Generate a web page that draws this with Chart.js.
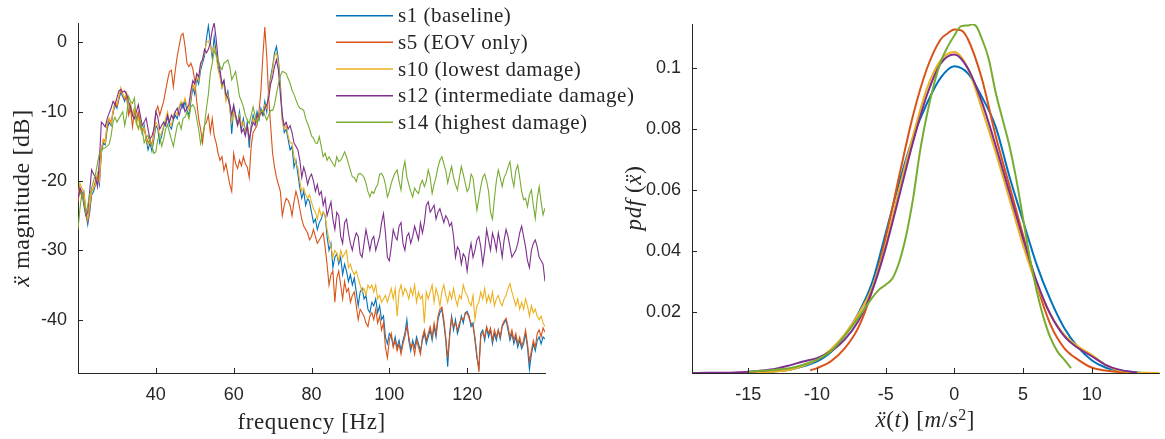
<!DOCTYPE html>
<html>
<head>
<meta charset="utf-8">
<script src="https://cdn.jsdelivr.net/npm/chart.js@4.4.1/dist/chart.umd.min.js"></script>
<style>
  html, body { margin: 0; padding: 0; background: #fff; }
  #wrap { position: relative; width: 1165px; height: 439px; overflow: hidden; background: #fff; }
  #wrap canvas { position: absolute; top: 0; }
  #spec { left: 0; }
  #pdf { left: 600px; }
</style>
</head>
<body>
<div id="wrap">
  <canvas id="spec" width="665" height="439"></canvas>
  <canvas id="pdf" width="565" height="439"></canvas>
</div>
<script>
// ---- series ----
const seriesNames = ['s1 (baseline)', 's5 (EOV only)', 's10 (lowest damage)', 's12 (intermediate damage)', 's14 (highest damage)'];

// ---- spectrum (dB), one value every 0.5 Hz from 20 to 140 Hz ----
const FREQ_START_HZ = 20;
const FREQ_STEP_HZ = 0.5;

const specS1 = [
  -22.5, -21.5, -22, -21.5, -24.5, -26.3, -24.5, -22, -21.5, -20.5,
  -19, -20.5, -16, -14.5, -14.8, -12.5, -11.5, -12, -10.2, -9,
  -9.5, -8.2, -7.2, -7.8, -8.5, -7.5, -9.8, -9, -10.5, -9.5,
  -11.5, -10.5, -12, -13.2, -12, -14, -15.5, -14.5, -15.7, -14,
  -12, -12.5, -14.5, -13.5, -12.2, -11.5, -10.8, -12, -12.5, -11.2,
  -10.5, -11, -9.5, -8.8, -9.5, -8.5, -9.8, -10.5, -8.5, -6.5,
  -7.5, -5.2, -6, -4, -3, -2, 0.5, 2.4, 0, -2.2,
  0.8, -1.5, -3.5, -4.5, -6.5, -5.5, -8, -7, -9, -13.2,
  -9.5, -10.5, -11.8, -10, -12.5, -11, -13, -11.5, -15.2, -12,
  -10.5, -11.5, -10, -11.2, -9.5, -10.5, -8.5, -10, -7, -5,
  -3.5, -1.5, -0.6, -2.5, -6, -11, -13, -12.5, -14, -15.5,
  -15, -18, -17, -19, -21, -22.5, -21.5, -23.5, -22.5, -23,
  -24.5, -26, -25.5, -27, -26, -25.5, -24.5, -25, -28, -30,
  -29, -32.5, -31, -30.5, -32, -31, -33.5, -32, -33, -34.5,
  -33.5, -35, -34, -36, -38, -36, -35.5, -37, -36.5, -38.5,
  -39, -37.5, -38, -37, -39, -38, -40, -39.5, -42.5, -43.5,
  -42, -42.5, -43.8, -42.5, -44, -43, -44.5, -43, -42, -40,
  -43, -44.5, -43, -44, -42.5, -43.5, -44.5, -43, -42, -43.5,
  -42.5, -41.5, -43, -41, -42.5, -40, -39, -38.5, -40.5, -43,
  -46.8, -42, -39.5, -41.5, -40, -42, -41, -39.5, -40.5, -39,
  -38.8, -39.5, -41, -40.5, -43, -45.5, -47, -42, -41.5, -43,
  -41.2, -42.5, -41.5, -43.5, -42, -43, -41.5, -42.8, -41, -40.5,
  -40, -41.5, -43, -42, -43.5, -42.5, -44, -43, -44.2, -43.5,
  -42, -44, -47.2, -45, -43.5, -44.5, -43, -42.5, -43.5, -42.5,
  -42.8
];

const specS5 = [
  -23, -21, -22.5, -22, -24.5, -25.8, -24, -21.5, -21, -20,
  -19.5, -20, -15.5, -14, -14.2, -12, -11, -11.5, -10, -8.8,
  -9.2, -8, -6.8, -7.5, -8.2, -7.8, -10.5, -9.5, -12.2, -10,
  -11, -10, -11.5, -12.8, -12.5, -13.5, -14.5, -14, -14.8, -13,
  -10, -9.2, -10.5, -9.5, -8.5, -7, -5.5, -4.2, -4, -6.4,
  -4, -2, -0.5, 1, 1.3, -0.5, -3, -3.5, -3, -3.8,
  -5.5, -8.5, -11, -12.5, -14.5, -12, -11.5, -10.5, -13, -11,
  -13.5, -14.5, -16, -17, -16.5, -18.5, -17.5, -19, -20.5, -21.5,
  -16, -17.5, -18.2, -17, -17.8, -16.5, -17.5, -18, -19.5, -15,
  -13, -12.5, -12, -10, -7, -2, 2.2, -2, -8, -12,
  -16, -18, -19.5, -20.5, -21.5, -25, -23.5, -22.5, -22.8, -23.5,
  -25, -23, -21.5, -22.5, -24, -25.5, -26.5, -27, -27.5, -28.5,
  -28, -27, -28, -29, -28.5, -28, -27.5, -29.5, -32, -35,
  -33.5, -33, -37.5, -34, -33, -35, -37, -34.5, -36, -35.5,
  -37.5, -36.5, -36, -38, -40, -38.5, -39, -39.5, -40.5, -41,
  -39.5, -39, -40, -38.5, -40.5, -39.5, -41.5, -40.5, -44, -45.5,
  -43, -42, -44, -43, -44.5, -43.5, -45, -43.5, -42.5, -41,
  -42.5, -44, -43.5, -45, -43, -44, -45, -42.5, -41.5, -43,
  -42, -41, -42.5, -40.5, -42, -39.5, -38.5, -38.2, -40, -42.5,
  -45.5, -42.5, -39.8, -41, -40.5, -41.5, -40.5, -39.8, -40, -39.2,
  -39, -39.8, -40.5, -41, -42.5, -45, -47.5, -42.5, -41.8, -42.5,
  -41, -42, -41.2, -43, -41.5, -42.5, -41.5, -42.5, -40.8, -40.2,
  -39.8, -41, -42.5, -41.5, -43, -42, -43.5, -42.5, -43.8, -43,
  -41.5, -43.5, -46, -44.5, -43, -44, -42, -41.5, -42.5, -41.2,
  -41.8
];

const specS10 = [
  -22, -20.3, -21, -21.5, -24, -25.5, -23.5, -21.5, -21, -20.5,
  -19, -20, -15.5, -14, -14.5, -11.5, -11, -11.8, -10, -8.5,
  -9, -7.8, -6.5, -7.5, -8, -7.2, -9.5, -8.8, -10.5, -9.5,
  -11.8, -10.8, -12.5, -13, -12.3, -13.8, -14.8, -14.2, -15, -13.5,
  -11.5, -12, -13.5, -13, -12, -11, -10, -11.5, -12, -10.5,
  -10, -10.5, -9.2, -8.5, -9, -8, -9.2, -9.8, -8, -6,
  -6.8, -5, -5.5, -3.5, -2.5, -1.5, 0, 0.2, -0.5, -1.5,
  -0.5, -2, -4, -5, -6.5, -6, -8.5, -7.5, -9.5, -11.5,
  -10, -11, -12, -10.5, -12, -11.5, -13, -12, -14, -12.5,
  -11, -11.5, -10.5, -11, -9.8, -10, -9, -9.5, -7.5, -5.5,
  -4, -2, -1.5, -3, -6.5, -11.5, -12.5, -12, -13.5, -14.5,
  -14.5, -16.5, -17.5, -18, -20, -21.5, -21, -22, -22.5, -22,
  -23, -24, -24.5, -25.5, -24, -25, -24.5, -25, -27, -28.5,
  -29.5, -31, -30, -30.5, -31.5, -30, -31, -30.5, -30, -32.5,
  -32, -33, -33.5, -33, -34, -35, -36, -35.5, -36.5, -35,
  -35.5, -35, -36, -35, -37, -36.5, -37.5, -37, -36.5, -37.5,
  -36.5, -35.5, -37, -35.5, -39.5, -36, -35, -36.5, -35.5, -36,
  -37, -35.5, -36.5, -35, -37.5, -36, -37, -36.5, -40.5, -36,
  -37, -36, -35, -37.5, -35.5, -36.5, -38, -36, -35, -36.5,
  -37.5, -36, -37, -35.5, -37, -38, -36.5, -37, -35, -36,
  -36.5, -37.5, -38, -36.5, -40, -38, -37.5, -36, -37, -35.5,
  -37.5, -36.5, -37.5, -36, -38, -37, -36.5, -37.5, -38, -37,
  -36.5, -35.5, -34.8, -36, -37, -38, -37, -38.5, -37.5, -38.5,
  -37, -38, -39.5, -38, -39, -38.5, -39.5, -40, -39.5, -40.5,
  -41
];

const specS12 = [
  -22.5, -21, -21.5, -23.5, -25, -24.5, -21.5, -18.4, -19, -19.5,
  -20.8, -17, -11.5, -11.8, -12.2, -11, -10.2, -9.5, -8.5, -9,
  -8, -7, -6.8, -7.2, -7, -7.5, -8.5, -9.3, -10.5, -11,
  -10, -9, -10.5, -12, -11.5, -10.9, -12.5, -13.9, -13.5, -12.5,
  -10, -10.8, -12.5, -12, -11.5, -12, -10.5, -11.5, -10.5, -11,
  -10, -9.5, -10.5, -9.5, -8.8, -10, -9.5, -9, -7, -5.5,
  -6, -4.5, -5, -3, -2.5, -1, -1.5, -1, 0, 1.8,
  2.8, 0.5, -2.5, -4, -6, -5.5, -7.5, -8, -9, -10.5,
  -9, -10.5, -12, -11, -13, -12.5, -13.5, -12, -14, -12.5,
  -11.5, -12, -10.5, -11, -10, -10.5, -9.5, -9, -8, -6,
  -5, -3.5, -2.5, -4, -7.5, -10.5, -12, -11.5, -12.5, -12,
  -13, -14.5, -15, -15.5, -17, -19.5, -18, -19, -20.5, -19.5,
  -19, -20, -21.5, -20.5, -22, -21.5, -23.5, -22.5, -25, -24,
  -23, -25.5, -27, -24.5, -25, -28, -29, -26, -25.5, -27.5,
  -29, -30, -28.5, -27.5, -28, -30.5, -31, -29, -27, -28.5,
  -30, -28.5, -28, -30, -29, -28, -26, -24.7, -27.5, -31,
  -31.5, -29.5, -27, -28, -28.5, -26.5, -26, -29, -30, -28,
  -27.5, -29, -28, -26.5, -27.5, -28.5, -26, -27.5, -26, -23.5,
  -23, -24.5, -24, -23.5, -25.5, -24.5, -24, -25, -26, -25,
  -25.5, -26.5, -26, -28, -31, -29.5, -30, -32, -30.5, -31,
  -33, -30.5, -29, -31, -30, -28.5, -28, -29.5, -32, -30,
  -27, -28.5, -30, -27.5, -28.5, -30, -27.5, -29, -31, -28.5,
  -27, -28, -29.5, -31, -30.5, -30, -29, -27.5, -26.5, -28,
  -29.5, -31.5, -32.5, -30, -29, -28.5, -29.5, -31, -31.5, -32,
  -34.5
];

const specS14 = [
  -27, -24, -21.7, -23, -24.6, -23.5, -22, -21, -20, -19,
  -17.5, -16, -15.5, -15.3, -15.2, -15, -14.7, -13.5, -11.5, -10.8,
  -11.5, -11, -10.5, -10, -12, -10.5, -7.8, -8.5, -8.8, -8,
  -11.5, -12.5, -11.2, -12.5, -14.5, -13.8, -13.4, -14.5, -14.9, -16,
  -15.8, -14, -13.5, -15, -14, -12.5, -11.8, -13, -14, -15,
  -13.5, -12, -11.5, -12.5, -11, -10.8, -10, -11, -9.3, -9,
  -9.5, -11, -12.5, -14.6, -13.5, -12, -9.5, -7.5, -4.5, -3,
  -1.2, -1.8, -2.5, -3.5, -3.9, -3, -2.8, -2.5, -3.5, -5.4,
  -4.8, -4.2, -6, -7.8, -8.5, -9.3, -10.5, -11.2, -11.7, -10.5,
  -9.3, -10.5, -11.7, -10.8, -10, -9.8, -10.5, -11.2, -10.5, -9.8,
  -9.8, -9, -7.4, -6, -4.8, -4.2, -4.3, -4.5, -5.2, -5.9,
  -6.9, -7.5, -8.3, -9, -9.5, -9.6, -9.8, -11, -11.7, -12.5,
  -13.5, -13.8, -14.5, -14.6, -13.6, -15, -16.5, -16, -17, -16.5,
  -17, -17.5, -17.9, -16.5, -17.2, -17, -16.5, -15.8, -16.5, -17.5,
  -18.5, -19.4, -19.5, -20.1, -19, -18.9, -19.1, -19.5, -20.3, -21.5,
  -22.3, -21.5, -21.8, -21, -20.5, -19, -18.9, -19.4, -20.5, -22.3,
  -21.5, -20.3, -19.5, -18.8, -18.4, -20, -21.3, -18.5, -17.2, -19.4,
  -20.5, -21.5, -22.3, -21, -21.5, -21.8, -20.5, -19.9, -20.8, -20,
  -18.4, -19.5, -21.8, -20.5, -19.4, -18, -17, -16.5, -17.5, -18.5,
  -20.3, -19, -17.9, -19.5, -20.5, -21.3, -19.5, -17.9, -19, -20.3,
  -21.5, -21, -19, -19.5, -22, -24.2, -22.5, -20.8, -19.5, -19,
  -20, -21.5, -24.5, -25.5, -22.5, -20, -18.4, -19.5, -20.8, -19.5,
  -18.9, -18, -17.2, -19.5, -20.8, -18.5, -17.7, -19.5, -21.5, -22.7,
  -22.5, -23.7, -22, -21.3, -23.5, -25.4, -22.5, -20.8, -23, -24.9,
  -23.9
];

const specXTicks = [40, 60, 80, 100, 120];
const specYTicks = [-40, -30, -20, -10, 0];

// ---- probability density of the acceleration ----
const pdfS1X = [-15, -14, -13, -12, -11, -10, -9, -8, -7, -6, -5, -4, -3, -2, -1, 0, 1, 2, 3, 4, 5, 6, 7, 8, 9, 10, 11, 12, 13, 13.6];
const pdfS1Y = [0.0001, 0.0003, 0.0006, 0.0011, 0.0022, 0.0038, 0.0068, 0.0122, 0.0195, 0.0295, 0.0459, 0.0628, 0.0775, 0.0885, 0.0969, 0.1007, 0.0983, 0.0907, 0.081, 0.0647, 0.05, 0.0355, 0.024, 0.0148, 0.0085, 0.0042, 0.0018, 0.0008, 0.0003, 0.0001];

const pdfS5X = [-10.5, -10, -9, -8, -7, -6, -5, -4, -3, -2, -1, -0.5, 0, 0.5, 1, 2, 3, 4, 5, 6, 7, 8, 9, 10, 11, 12, 13];
const pdfS5Y = [0.0009, 0.0016, 0.0038, 0.008, 0.0148, 0.0268, 0.0443, 0.065, 0.0847, 0.0999, 0.1095, 0.1115, 0.1128, 0.1125, 0.1095, 0.0967, 0.078, 0.0617, 0.0453, 0.029, 0.0159, 0.0082, 0.0044, 0.0018, 0.0008, 0.0003, 0.0001];

const pdfS10X = [-16, -15, -14, -13, -12, -11, -10, -9, -8, -7, -6, -5, -4, -3, -2, -1, 0, 1, 2, 3, 4, 5, 6, 7, 8, 9, 10, 11, 12, 13, 14, 14.9];
const pdfS10Y = [0, 0.0001, 0.0002, 0.0005, 0.0011, 0.0024, 0.0044, 0.0077, 0.0126, 0.0192, 0.0279, 0.042, 0.0606, 0.078, 0.0934, 0.1027, 0.1054, 0.0999, 0.0868, 0.0726, 0.0573, 0.042, 0.0289, 0.0192, 0.0126, 0.0088, 0.006, 0.0027, 0.0008, 0.0002, 0.0001, 0];

const pdfS12X = [-19.1, -18, -17, -16, -15, -14, -13, -12, -11, -10, -9, -8, -7, -6, -5, -4, -3, -2, -1, 0, 1, 2, 3, 4, 5, 6, 7, 8, 9, 10, 11, 12, 13, 13.3];
const pdfS12Y = [0, 0.00005, 0.0001, 0.0002, 0.0004, 0.0008, 0.0014, 0.0025, 0.0038, 0.0049, 0.0071, 0.0109, 0.017, 0.0268, 0.041, 0.0584, 0.0759, 0.0912, 0.1016, 0.1046, 0.0999, 0.089, 0.0748, 0.0595, 0.0442, 0.03, 0.0192, 0.0121, 0.0082, 0.0055, 0.0027, 0.0011, 0.0003, 0.0001];

const pdfS14X = [-15, -14, -13, -12, -11, -10, -9, -8, -7, -6, -5.5, -5, -4.5, -4, -3.5, -3, -2.5, -2, -1.5, -1, -0.5, 0, 0.5, 1, 1.3, 1.6, 2, 2.5, 3, 3.5, 4, 4.5, 5, 5.5, 6, 6.5, 7, 7.5, 8, 8.5];
const pdfS14Y = [0.0004, 0.0007, 0.0011, 0.0016, 0.0027, 0.0044, 0.0071, 0.0121, 0.0181, 0.0246, 0.0273, 0.029, 0.0311, 0.0366, 0.0453, 0.0574, 0.0727, 0.0847, 0.0945, 0.1021, 0.107, 0.1108, 0.1139, 0.1141, 0.1145, 0.1138, 0.1098, 0.1032, 0.0923, 0.0835, 0.0748, 0.0639, 0.0508, 0.0377, 0.0268, 0.0181, 0.0115, 0.0071, 0.0044, 0.0016];

const pdfXTicks = [-15, -10, -5, 0, 5, 10];
const pdfYTicks = [0.02, 0.04, 0.06, 0.08, 0.1];

// ---- look ----
const seriesColors = ['#0072BD', '#D95319', '#EDB120', '#7E2F8E', '#77AC30'];
const INK = '#262626';
const SANS = "'Liberation Sans', Arial, Helvetica, sans-serif";
const SERIF = "'Liberation Serif', 'Times New Roman', 'DejaVu Serif', serif";
const TICK_FONT = { family: SANS, size: 18 };

const freqHz = specS1.map((_, i) => FREQ_START_HZ + i * FREQ_STEP_HZ);
const specSeries = [specS1, specS5, specS10, specS12, specS14];
const pdfSeries = [[pdfS1X, pdfS1Y], [pdfS5X, pdfS5Y], [pdfS10X, pdfS10Y], [pdfS12X, pdfS12Y], [pdfS14X, pdfS14Y]];

function toPoints(xs, ys) {
  return ys.map((y, i) => ({ x: xs[i], y: y }));
}

function fixedTicks(values) {
  return scale => { scale.ticks = values.map(v => ({ value: v })); };
}

// short tick marks pointing into the plot, only on the two drawn axes
const inwardTicks = {
  id: 'inwardTicks',
  afterDatasetsDraw(chart) {
    const { ctx, chartArea, scales } = chart;
    ctx.save();
    ctx.strokeStyle = INK;
    ctx.lineWidth = 1;
    ctx.beginPath();
    scales.x.ticks.forEach(t => {
      const px = Math.round(scales.x.getPixelForValue(t.value)) + 0.5;
      ctx.moveTo(px, chartArea.bottom);
      ctx.lineTo(px, chartArea.bottom - 5);
    });
    scales.y.ticks.forEach(t => {
      const py = Math.round(scales.y.getPixelForValue(t.value)) + 0.5;
      ctx.moveTo(chartArea.left, py);
      ctx.lineTo(chartArea.left + 5, py);
    });
    ctx.stroke();
    ctx.restore();
  }
};

// axis titles made of upright / italic / superscript pieces
function runFont(r, size) {
  const sz = r.sup ? Math.round(size * 0.68) : size;
  return (r.it ? 'italic ' : '') + sz + 'px ' + SERIF;
}

function drawRuns(ctx, runs, cx, cy, size, rotate) {
  ctx.save();
  ctx.translate(cx, cy);
  if (rotate) ctx.rotate(-Math.PI / 2);
  ctx.fillStyle = INK;
  ctx.textBaseline = 'alphabetic';
  ctx.textAlign = 'left';
  ctx.letterSpacing = '0.6px';
  const widths = runs.map(r => { ctx.font = runFont(r, size); return ctx.measureText(r.t).width; });
  let x = -widths.reduce((a, b) => a + b, 0) / 2;
  runs.forEach((r, i) => {
    ctx.font = runFont(r, size);
    ctx.fillText(r.t, x, r.sup ? size * 0.0 : size * 0.3);
    x += widths[i];
  });
  ctx.restore();
}

const axisTitles = {
  id: 'axisTitles',
  afterDraw(chart, args, opts) {
    (opts.items || []).forEach(it => drawRuns(chart.ctx, it.runs, it.x, it.y, it.size, it.rotate));
  }
};

// legend without a box, sitting over the top of the spectrum plot
const seriesKey = {
  id: 'seriesKey',
  afterDraw(chart, args, opts) {
    if (!opts.show) return;
    const ctx = chart.ctx;
    ctx.save();
    ctx.font = '21px ' + SERIF;
    ctx.letterSpacing = '0.5px';
    ctx.textBaseline = 'middle';
    ctx.fillStyle = INK;
    seriesNames.forEach((name, i) => {
      const y = opts.top + i * opts.rowGap;
      ctx.strokeStyle = seriesColors[i];
      ctx.lineWidth = 1.5;
      ctx.beginPath();
      ctx.moveTo(opts.lineX0, y);
      ctx.lineTo(opts.lineX1, y);
      ctx.stroke();
      ctx.fillText(name, opts.textX, y + 1);
    });
    ctx.restore();
  }
};

const tickLabel = v => String(+Number(v).toFixed(4));

function axisOpts(min, max, ticks, extra) {
  return Object.assign({
    type: 'linear',
    min: min,
    max: max,
    afterBuildTicks: fixedTicks(ticks),
    grid: { display: false },
    border: { display: true, color: INK, width: 1 },
    ticks: { color: INK, font: TICK_FONT, callback: tickLabel, autoSkip: false, maxRotation: 0 }
  }, extra);
}

// left: spectrum magnitude
new Chart(document.getElementById('spec'), {
  type: 'line',
  data: {
    datasets: specSeries.map((ys, i) => ({
      label: seriesNames[i],
      data: toPoints(freqHz, ys),
      borderColor: seriesColors[i],
      borderWidth: 1.1,
      pointRadius: 0,
      tension: 0,
      order: seriesNames.length - i
    }))
  },
  options: {
    responsive: false,
    animation: false,
    devicePixelRatio: 1,
    layout: { padding: { top: 23, right: 120, left: 0, bottom: 0 } },
    plugins: {
      legend: { display: false },
      tooltip: { enabled: false },
      axisTitles: {
        items: [
          { runs: [{ t: 'frequency [Hz]' }], x: 311.6, y: 422, size: 23 },
          { runs: [{ t: 'ẍ', it: true }, { t: ' magnitude [dB]' }], x: 22, y: 198, size: 24, rotate: true }
        ]
      },
      seriesKey: { show: true, top: 15.7, rowGap: 26.65, lineX0: 336, lineX1: 393, textX: 398 }
    },
    scales: {
      x: axisOpts(20, 140, specXTicks, { afterFit: s => { s.height = 66; } }),
      y: axisOpts(-47.7, 2.8, specYTicks, { afterFit: s => { s.width = 78; } })
    }
  },
  plugins: [inwardTicks, axisTitles, seriesKey]
});

// right: density estimate
new Chart(document.getElementById('pdf'), {
  type: 'line',
  data: {
    datasets: pdfSeries.map(([xs, ys], i) => ({
      label: seriesNames[i],
      data: toPoints(xs, ys),
      borderColor: seriesColors[i],
      borderWidth: 2,
      pointRadius: 0,
      cubicInterpolationMode: 'monotone',
      order: seriesNames.length - i
    }))
  },
  options: {
    responsive: false,
    animation: false,
    devicePixelRatio: 1,
    layout: { padding: { top: 24, right: 6, left: 0, bottom: 0 } },
    plugins: {
      legend: { display: false },
      tooltip: { enabled: false },
      axisTitles: {
        items: [
          { runs: [{ t: 'ẍ', it: true }, { t: '(' }, { t: 't', it: true }, { t: ') [' }, { t: 'm', it: true }, { t: '/' }, { t: 's', it: true }, { t: '2', sup: true }, { t: ']' }], x: 325.3, y: 420, size: 23 },
          { runs: [{ t: 'pdf', it: true }, { t: ' (' }, { t: 'ẍ', it: true }, { t: ')' }], x: 34, y: 198, size: 23, rotate: true }
        ]
      },
      seriesKey: { show: false }
    },
    scales: {
      x: axisOpts(-19.1, 14.9, pdfXTicks, { afterFit: s => { s.height = 66; } }),
      y: axisOpts(0, 0.1146, pdfYTicks, { afterFit: s => { s.width = 92; } })
    }
  },
  plugins: [inwardTicks, axisTitles, seriesKey]
});
</script>
</body>
</html>
